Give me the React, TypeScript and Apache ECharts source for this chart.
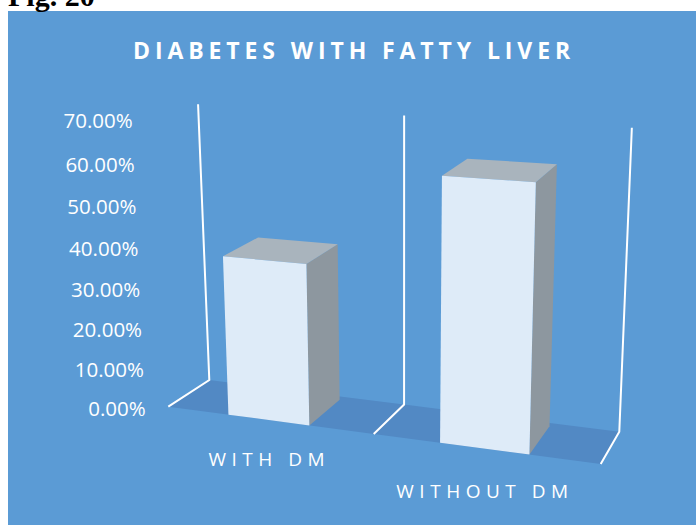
import { useEffect, useRef } from "react";
import * as echarts from "echarts";

// ---- data ----
const CATEGORIES = ["WITH DM", "WITHOUT DM"];
const VALUES = [38, 61]; // share of patients with fatty liver, %
const Y_TICKS = [0, 10, 20, 30, 40, 50, 60, 70];
const Y_MIN = 0;
const Y_MAX = 70;
const Y_STEP = 10;
const TITLE = "DIABETES WITH FATTY LIVER";
const FIG_LABEL = "Fig. 20";

// ---- look ----
const PANEL_BLUE = "#5B9BD5";
const FLOOR_BLUE = "#5289C4";
const FACE_FRONT = "#DEEBF8";
const FACE_TOP = "#A9B4BD";
const FACE_SIDE = "#8D979F";
const LINE_WHITE = "#FFFFFF";

// ---- 3D projection of the plot box (screen pixels) ----
type Pt = [number, number];
const FLOOR_FRONT_LEFT: Pt = [168.3, 406.7];
const FLOOR_FRONT_RIGHT: Pt = [600.7, 464];
const FLOOR_BACK_LEFT: Pt = [209.3, 380];
const FLOOR_BACK_RIGHT: Pt = [619.3, 431.7];
const FORESHORTEN = 1.105; // right side is nearer the eye
const WALL_HEIGHT_BACK_LEFT = 275.8; // full value range at the back-left corner
const WALL_HEIGHT_PER_PX = 0.0686; // growth towards the right
const WALL_HEIGHT_FRONT_GAIN = 14.7; // growth towards the front
const LEAN = 0.058; // verticals fan out upwards
const LEAN_CENTER_X = 403;
const BAR_DEPTH = 0.9; // share of the floor depth taken by a column
const BAR_BAND_RATIO = 0.394; // column width / category band

// axis label perspective tweaks
const Y_LABEL_LEAN = 13;
const Y_LABEL_SAG = 19;
const X_LABEL_DROP = [0, 32];
const TITLE_SPACING = 4.9;
const X_LABEL_SPACING = 5.5;

const lerp = (a: Pt, b: Pt, k: number): Pt => [
  a[0] + (b[0] - a[0]) * k,
  a[1] + (b[1] - a[1]) * k,
];

// u: 0..1 across the category axis, t: 0..1 of the value range, d: 0 front .. 1 back
function project(u: number, t: number, d: number): Pt {
  const w = u / (u + (1 - u) * FORESHORTEN);
  const front = lerp(FLOOR_FRONT_LEFT, FLOOR_FRONT_RIGHT, w);
  const back = lerp(FLOOR_BACK_LEFT, FLOOR_BACK_RIGHT, w);
  const base = lerp(front, back, d);
  const wall =
    WALL_HEIGHT_BACK_LEFT +
    WALL_HEIGHT_PER_PX * (base[0] - FLOOR_BACK_LEFT[0]) +
    WALL_HEIGHT_FRONT_GAIN * (1 - d);
  return [base[0] + LEAN * (base[0] - LEAN_CENTER_X) * t, base[1] - wall * t];
}

export default function App() {
  const ref = useRef<HTMLDivElement>(null);

  useEffect(() => {
    const el = ref.current;
    if (!el) return;
    const chart = echarts.init(el, undefined, { renderer: "svg" });

    const rich: Record<string, any> = {};
    Y_TICKS.forEach((v) => {
      const t = (v - Y_MIN) / (Y_MAX - Y_MIN);
      const dy = Y_LABEL_SAG * t * (1 - t);
      rich["t" + v] = {
        color: "#FFFFFF",
        fontFamily: "Open Sans",
        fontSize: 20.5,
        padding: [dy * 2, Y_LABEL_LEAN * t, 0, 0],
      };
    });

    const barItem = (params: any, api: any) => {
      const cs = params.coordSys;
      const i = api.value(0);
      const v = api.value(1);
      const base = api.coord([i, 0]);
      const top = api.coord([i, v]);
      const band = api.size([1, 0])[0];
      const uc = (base[0] - cs.x) / cs.width;
      const hw = (band * BAR_BAND_RATIO) / 2 / cs.width;
      const t = (base[1] - top[1]) / cs.height;
      const ul = uc - hw;
      const ur = uc + hw;
      const flb = project(ul, 0, 0);
      const frb = project(ur, 0, 0);
      const flt = project(ul, t, 0);
      const frt = project(ur, t, 0);
      const brb = project(ur, 0, BAR_DEPTH);
      const brt = project(ur, t, BAR_DEPTH);
      const blt = project(ul, t, BAR_DEPTH);
      return {
        type: "group",
        children: [
          { type: "polygon", shape: { points: [frb, brb, brt, frt] }, style: { fill: FACE_SIDE } },
          { type: "polygon", shape: { points: [flt, frt, brt, blt] }, style: { fill: FACE_TOP } },
          { type: "polygon", shape: { points: [flb, frb, frt, flt] }, style: { fill: FACE_FRONT } },
        ],
      };
    };

    const frameItem = (params: any, api: any) => {
      const cs = params.coordSys;
      const i = api.value(0);
      const c = api.coord([i, Y_MIN]);
      const topY = api.coord([i, api.value(1)])[1];
      const band = api.size([1, 0])[0];
      const ul = (c[0] - band / 2 - cs.x) / cs.width;
      const ur = (c[0] + band / 2 - cs.x) / cs.width;
      const t = (c[1] - topY) / cs.height;
      const edge = (u: number) => ({
        type: "polyline",
        shape: { points: [project(u, 0, 0), project(u, 0, 1), project(u, t, 1)] },
        style: { stroke: LINE_WHITE, lineWidth: 2, fill: null },
      });
      const children: any[] = [
        {
          type: "polygon",
          shape: { points: [project(ul, 0, 0), project(ul, 0, 1), project(ur, 0, 1), project(ur, 0, 0)] },
          style: { fill: FLOOR_BLUE },
        },
        edge(ul),
      ];
      if (params.dataIndex === CATEGORIES.length - 1) children.push(edge(ur));
      return { type: "group", children };
    };

    chart.setOption({
      animation: false,
      backgroundColor: PANEL_BLUE,
      grid: {
        left: 158.75,
        right: 106,
        top: 120.3,
        bottom: 117.5,
        containLabel: false,
        outerBoundsMode: "none",
      },
      xAxis: {
        type: "category",
        data: CATEGORIES.map((c, i) => ({
          value: c,
          textStyle: { padding: [X_LABEL_DROP[i], 0, 0, X_LABEL_SPACING] },
        })),
        axisLine: { show: false },
        axisTick: { show: false },
        splitLine: { show: false },
        axisLabel: {
          interval: 0,
          color: "#FFFFFF",
          fontFamily: "Open Sans",
          fontSize: 19,
          margin: 42,
        },
      },
      yAxis: {
        type: "value",
        min: Y_MIN,
        max: Y_MAX,
        interval: Y_STEP,
        axisLine: { show: false },
        axisTick: { show: false },
        splitLine: { show: false },
        axisLabel: {
          margin: 13,
          color: "#FFFFFF",
          fontFamily: "Open Sans",
          fontSize: 20.5,
          formatter: (v: number) => `{t${v}|${v.toFixed(2)}%}`,
          rich,
        },
      },
      graphic: [
        { type: "rect", shape: { x: 0, y: 0, width: 696, height: 11 }, style: { fill: "#FFFFFF" } },
        { type: "rect", shape: { x: 0, y: 0, width: 8, height: 525 }, style: { fill: "#FFFFFF" } },
        {
          type: "text",
          x: 8,
          y: -5,
          style: {
            text: FIG_LABEL,
            fill: "#000000",
            font: 'bold 30px "Liberation Serif"',
            align: "left",
            verticalAlign: "middle",
            textAlign: "left",
            textVerticalAlign: "middle",
          },
        },
        {
          type: "text",
          x: 354,
          y: 50.3,
          style: {
            text: TITLE,
            fill: "#FFFFFF",
            font: 'bold 23px "Open Sans"',
            align: "center",
            verticalAlign: "middle",
            textAlign: "center",
            textVerticalAlign: "middle",
          },
        },
      ],
      series: [
        {
          type: "custom",
          name: "frame",
          silent: true,
          clip: false,
          z: 1,
          renderItem: frameItem,
          data: CATEGORIES.map((_, i) => [i, Y_MAX]),
        },
        {
          type: "custom",
          name: "share",
          silent: true,
          clip: false,
          z: 2,
          renderItem: barItem,
          data: VALUES.map((v, i) => [i, v]),
        },
      ],
    });

    // the wide tracking of the headings is applied to the rendered SVG text
    const spacing: Record<string, number> = { [TITLE]: TITLE_SPACING };
    CATEGORIES.forEach((c) => (spacing[c] = X_LABEL_SPACING));
    const applySpacing = () => {
      el.querySelectorAll("text").forEach((node) => {
        const s = spacing[node.textContent ?? ""];
        if (s !== undefined) node.setAttribute("letter-spacing", String(s));
      });
    };
    chart.on("rendered", applySpacing);
    applySpacing();
    const timer = window.setTimeout(applySpacing, 50);

    return () => {
      window.clearTimeout(timer);
      chart.dispose();
    };
  }, []);

  return (
    <div
      ref={ref}
      style={{ position: "fixed", left: 0, top: 0, width: 696, height: 525, background: "#FFFFFF" }}
    />
  );
}
